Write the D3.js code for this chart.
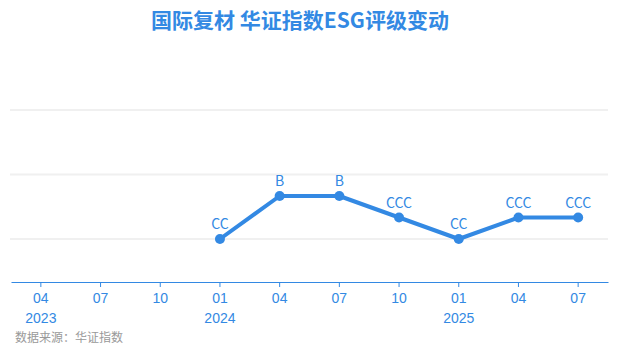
<!DOCTYPE html>
<html><head><meta charset="utf-8">
<script src="https://cdn.jsdelivr.net/npm/d3@7"></script>
<style>body{margin:0;background:#fff;}svg{display:block;font-family:"Noto Sans CJK SC","Noto Sans",sans-serif;}</style>
</head><body><svg id="c" width="618" height="355"></svg>
<script>
const quarters = ["2023-04","2023-07","2023-10","2024-01","2024-04","2024-07","2024-10","2025-01","2025-04","2025-07"];
const tickMonths = ["04","07","10","01","04","07","10","01","04","07"];
const yearLabels = {"2023-04":"2023","2024-01":"2024","2025-01":"2025"};
const pointQuarters = ["2024-01","2024-04","2024-07","2024-10","2025-01","2025-04","2025-07"];
const ratings = ["CC","B","B","CCC","CC","CCC","CCC"];
const ratingScale = ["C","CC","CCC","B","BB","BBB","A","AA","AAA"];
const gridValues = [2,5,8];

const blue = "#3389e3";
const svg = d3.select("#c");
const x = d3.scaleBand().domain(quarters).range([11,608]);
const y = d3.scaleLinear().domain([0,10]).range([282,67]);
const val = r => ratingScale.indexOf(r)+1;

svg.append("text").attr("x",300).attr("y",28).attr("text-anchor","middle")
  .attr("font-size",21).attr("font-weight","bold").attr("fill",blue).text("国际复材 华证指数ESG评级变动");

svg.append("g").selectAll("line").data(gridValues).join("line")
  .attr("x1",10).attr("x2",608).attr("y1",d=>y(d)).attr("y2",d=>y(d))
  .attr("stroke","#f0f0f0").attr("stroke-width",2);

const ax = svg.append("g").attr("transform","translate(0,282)")
  .call(d3.axisBottom(x).tickSize(5).tickSizeOuter(0).tickFormat((d,i)=>tickMonths[i]));
ax.select(".domain").attr("stroke",blue).attr("stroke-width",1.2);
ax.selectAll(".tick line").attr("stroke",blue);
ax.selectAll(".tick text").attr("fill",blue).attr("font-size",14).attr("dy","0.95em");
ax.selectAll(".tick").filter(d=>yearLabels[d]).append("text")
  .attr("y",41).attr("fill",blue).attr("font-size",14).attr("text-anchor","middle").text(d=>yearLabels[d]);

const pts = pointQuarters.map((q,i)=>({q, r:ratings[i]}));
const cx = d => x(d.q)+x.bandwidth()/2;
svg.append("path").datum(pts)
  .attr("d", d3.line().x(cx).y(d=>y(val(d.r))))
  .attr("fill","none").attr("stroke",blue).attr("stroke-width",4).attr("stroke-linejoin","round");
svg.append("g").selectAll("circle").data(pts).join("circle")
  .attr("cx",cx).attr("cy",d=>y(val(d.r))).attr("r",5).attr("fill",blue);
svg.append("g").selectAll("text").data(pts).join("text")
  .attr("x",cx).attr("y",d=>y(val(d.r))-10).attr("text-anchor","middle")
  .attr("font-size",14).attr("fill",blue).text(d=>d.r);

svg.append("text").attr("x",15).attr("y",342).attr("font-size",12).attr("fill","#999").text("数据来源：华证指数");
</script></body></html>
